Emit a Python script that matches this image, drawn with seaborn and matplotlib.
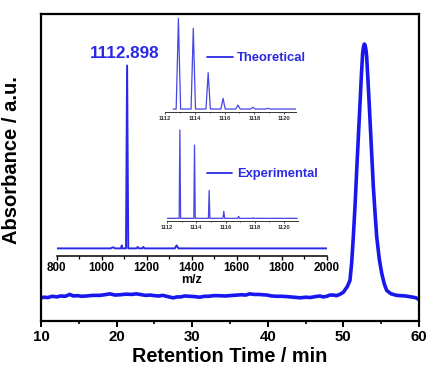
import matplotlib
matplotlib.use("Agg")
import matplotlib.pyplot as plt
from matplotlib.lines import Line2D
from matplotlib.ticker import MultipleLocator
import seaborn as sns
import pandas as pd

# ---------------- data ----------------
# HPLC chromatogram (retention time / min, absorbance a.u.)
rt_min = [10.0, 10.3, 10.9, 11.5, 12.1, 12.6, 13.2, 13.8, 14.3, 14.8, 15.4, 16.0,
          16.9, 17.8, 18.4, 19.1, 19.8, 20.5, 21.2, 22.0, 22.6, 23.1, 23.8, 24.5,
          25.0, 25.6, 26.1, 26.6, 27.1, 27.5, 28.0, 28.5, 29.0, 29.6, 30.3, 31.0,
          31.6, 32.2, 32.8, 33.5, 34.4, 35.4, 36.0, 36.5, 37.1, 37.6, 38.2, 38.8,
          39.3, 39.9, 40.5, 41.2, 41.8, 42.5, 43.4, 44.3, 45.0, 45.6, 46.3, 46.9,
          47.3, 47.8, 48.2, 48.7, 49.1, 49.5, 49.99, 50.5, 50.87, 51.1, 51.31,
          51.55, 51.76, 52.0, 52.2, 52.4, 52.55, 52.67, 52.77, 52.88, 53.0, 53.08,
          53.3, 53.52, 53.75, 53.96, 54.2, 54.41, 54.75, 55.07, 55.4, 55.73, 56.3,
          57.05, 57.6, 58.2, 58.7, 59.21, 59.6, 59.87]
absorb = [0.073, 0.076, 0.075, 0.079, 0.077, 0.080, 0.079, 0.085, 0.080, 0.081,
          0.079, 0.080, 0.082, 0.082, 0.084, 0.087, 0.083, 0.084, 0.086, 0.085,
          0.087, 0.085, 0.082, 0.083, 0.081, 0.080, 0.082, 0.079, 0.076, 0.074,
          0.077, 0.077, 0.080, 0.079, 0.078, 0.076, 0.079, 0.079, 0.081, 0.081,
          0.080, 0.082, 0.083, 0.084, 0.083, 0.087, 0.085, 0.085, 0.084, 0.083,
          0.080, 0.079, 0.079, 0.078, 0.076, 0.074, 0.076, 0.075, 0.078, 0.080,
          0.077, 0.079, 0.083, 0.083, 0.081, 0.085, 0.092, 0.110, 0.131, 0.19,
          0.272, 0.38, 0.490, 0.61, 0.709, 0.81, 0.873, 0.895, 0.902, 0.898, 0.88,
          0.860, 0.76, 0.654, 0.54, 0.436, 0.345, 0.272, 0.20, 0.154, 0.12, 0.098,
          0.087, 0.082, 0.081, 0.080, 0.078, 0.076, 0.074, 0.070]

# MALDI mass spectrum (m/z, relative intensity)
ms_mz = [800, 1040, 1050, 1060, 1080, 1086, 1089, 1092, 1108, 1112.898, 1118,
         1155, 1160, 1165, 1180, 1185, 1190, 1325, 1333, 1341, 2000]
ms_int = [0, 0, 0.006, 0, 0, 0, 0.016, 0, 0, 1.0, 0, 0, 0.008, 0, 0, 0.008, 0,
          0, 0.016, 0, 0]

# theoretical isotope pattern
theo_mz = [1112.55, 1112.75, 1112.82, 1112.9, 1112.98, 1113.05, 1113.75, 1113.82,
           1113.9, 1113.98, 1114.05, 1114.75, 1114.82, 1114.9, 1114.98, 1115.05,
           1115.75, 1115.82, 1115.9, 1115.98, 1116.05, 1116.75, 1116.82, 1116.9,
           1116.98, 1117.05, 1117.75, 1117.9, 1118.05, 1118.75, 1118.9, 1119.05,
           1120.85]
theo_int = [0, 0, 0.45, 1.0, 0.45, 0, 0, 0.40, 0.89, 0.40, 0, 0, 0.18, 0.40, 0.18,
            0, 0, 0.05, 0.118, 0.05, 0, 0, 0.02, 0.044, 0.02, 0, 0, 0.019, 0, 0,
            0.008, 0, 0]

# experimental isotope pattern
exp_mz = [1112.0, 1112.83, 1112.88, 1112.93, 1113.83, 1113.88, 1113.93, 1114.83,
          1114.88, 1114.93, 1115.82, 1115.88, 1115.94, 1116.84, 1116.9, 1116.96,
          1117.85, 1117.9, 1117.95, 1120.9]
exp_int = [0, 0, 1.0, 0, 0, 0.83, 0, 0, 0.315, 0, 0, 0.079, 0, 0, 0.022, 0, 0,
           0.006, 0, 0]

main_ticks = [10, 20, 30, 40, 50, 60]
ms_ticks = [800, 1000, 1200, 1400, 1600, 1800, 2000]
iso_ticks = [1112, 1114, 1116, 1118, 1120]

peak_label = "1112.898"
theo_label = "Theoretical"
exp_label = "Experimental"

# ---------------- style ----------------
sns.set_style("ticks")
plt.rcParams['font.family'] = ['Liberation Sans', 'DejaVu Sans']
plt.rcParams['font.weight'] = 'bold'
plt.rcParams['text.color'] = 'black'
plt.rcParams['axes.labelcolor'] = 'black'
plt.rcParams['xtick.color'] = 'black'
plt.rcParams['ytick.color'] = 'black'
plt.rcParams['lines.solid_joinstyle'] = 'round'

W, H = 431, 376
fig = plt.figure(figsize=(W / 100, H / 100), dpi=100)


def fx(px):
    return px / W


def fy(py):
    return 1 - py / H


BLUE = "#1717ee"
BLUE_T = "#2a2ae6"
BLUE_I = "#4646e4"

# ---------------- main chromatogram ----------------
ax = fig.add_axes([fx(41), fy(320.5), fx(419) - fx(41), fy(14) - fy(320.5)])
df_c = pd.DataFrame({"t": rt_min, "a": absorb})
sns.lineplot(data=df_c, x="t", y="a", ax=ax, color=BLUE, lw=2.6,
             estimator=None, sort=False)
ax.set_xlim(10, 60)
ax.set_ylim(0, 1)
ax.set_xticks(main_ticks)
ax.xaxis.set_minor_locator(MultipleLocator(5))
ax.set_yticks([])
for s in ax.spines.values():
    s.set_linewidth(1.6)
    s.set_color("black")
    s.set_visible(True)
ax.tick_params(axis="x", which="major", direction="out", length=4, width=1.4,
               labelsize=10.8, pad=3, colors="black")
ax.tick_params(axis="x", which="minor", direction="out", length=2.5, width=1.2)
for lab in ax.get_xticklabels():
    lab.set_fontweight("bold")
ax.set_xlabel("Retention Time / min", fontsize=14.3, fontweight="bold", labelpad=2,
              color="black")
ax.set_ylabel("Absorbance / a.u.", fontsize=14.5, fontweight="bold", color="black")
ax.yaxis.set_label_coords(-0.053, 0.523)

# ---------------- MS inset ----------------
ax_ms = fig.add_axes([fx(56.7), fy(255.7), fx(326.7) - fx(56.7), fy(60) - fy(255.7)])
ax_ms.patch.set_alpha(0)
df_ms = pd.DataFrame({"mz": ms_mz, "i": ms_int})
sns.lineplot(data=df_ms, x="mz", y="i", ax=ax_ms, color=BLUE_T, lw=1.4,
             estimator=None, sort=False)
ax_ms.set_xlim(800, 2000)
ax_ms.set_ylim(-0.04, 1.03)
ax_ms.set_xticks(ms_ticks)
ax_ms.xaxis.set_minor_locator(MultipleLocator(100))
ax_ms.set_yticks([])
for k in ["top", "right", "left"]:
    ax_ms.spines[k].set_visible(False)
ax_ms.spines["bottom"].set_linewidth(1.1)
ax_ms.spines["bottom"].set_color("black")
ax_ms.tick_params(axis="x", which="major", direction="out", length=3, width=1,
                  labelsize=8.4, pad=1.5, colors="black")
ax_ms.tick_params(axis="x", which="minor", direction="out", length=2, width=0.9)
for lab in ax_ms.get_xticklabels():
    lab.set_fontweight("bold")
ax_ms.set_xlabel("m/z", fontsize=8.9, fontweight="bold", labelpad=0, color="black")
ax_ms.set_ylabel("")


# ---------------- isotope insets ----------------
def iso_axes(left, right, bottom, top, mz, inten, ylim, xlim):
    a = fig.add_axes([fx(left), fy(bottom), fx(right) - fx(left), fy(top) - fy(bottom)])
    a.patch.set_alpha(0)
    d = pd.DataFrame({"mz": mz, "i": inten})
    sns.lineplot(data=d, x="mz", y="i", ax=a, color=BLUE_I, lw=0.9,
                 estimator=None, sort=False)
    a.set_xlim(*xlim)
    a.set_ylim(*ylim)
    a.set_xticks(iso_ticks)
    a.xaxis.set_minor_locator(MultipleLocator(1))
    a.set_yticks([])
    for k in ["top", "right", "left"]:
        a.spines[k].set_visible(False)
    a.spines["bottom"].set_linewidth(0.7)
    a.spines["bottom"].set_color("#333333")
    a.tick_params(axis="x", which="major", direction="out", length=1.5, width=0.6,
                  labelsize=4.2, pad=1.5, colors="#333333")
    a.tick_params(axis="x", which="minor", direction="out", length=1, width=0.5)
    a.set_xlabel("")
    a.set_ylabel("")
    return a


ax_t = iso_axes(165, 296, 112, 14.5, theo_mz, theo_int, (-0.033, 1.042),
                (1112.0, 1120.8))
ax_e = iso_axes(167, 298, 220.7, 124.7, exp_mz, exp_int, (-0.027, 1.06),
                (1112.0, 1120.95))

# legend-like labels
fig.add_artist(Line2D([fx(206.7), fx(232.7)], [fy(56.7), fy(56.7)], color=BLUE_T, lw=1.3))
fig.text(fx(237), fy(60.7), theo_label, fontsize=9.4, fontweight="bold",
         color=BLUE_T, ha="left", va="baseline")
fig.add_artist(Line2D([fx(206.7), fx(231.7)], [fy(172.7), fy(172.7)], color=BLUE_T, lw=1.3))
fig.text(fx(237), fy(176.7), exp_label, fontsize=9.3, fontweight="bold",
         color=BLUE_T, ha="left", va="baseline")

fig.text(fx(124.5), fy(58.3), peak_label, fontsize=12.3, fontweight="bold",
         color=BLUE_T, ha="center", va="baseline")

fig.savefig("out.png", dpi=100)
